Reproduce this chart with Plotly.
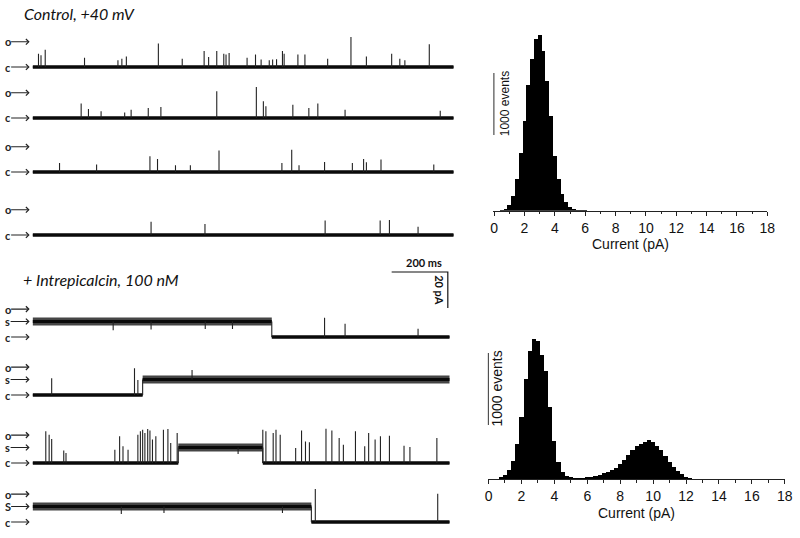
import plotly.graph_objects as go

W, H = 800, 538

# ---------------- DATA ----------------
# current levels (pA above the closed level)
C_LEVEL = 0.0
S_LEVEL = 8.6
CTRL_O_LEVEL = 14.0
INTR_O_LEVEL = 15.5
LEVELS = {"c": C_LEVEL, "s": S_LEVEL}

# Control, +40 mV : spike times (ms) and peak current (pA)
CTRL1_T = [21, 30, 45, 185, 304, 318, 334, 448, 533, 611, 627, 656, 681, 689, 700, 764, 794, 814,
           843, 855, 869, 890, 896, 945, 970, 1051, 1134, 1189, 1279, 1308, 1326, 1413]
CTRL1_P = [7.4, 6.5, 9.6, 5.2, 3.7, 4.6, 5.9, 13.0, 4.6, 8.9, 5.6, 8.9, 7.4, 7.0, 7.8, 5.2, 7.0, 4.1,
           3.7, 4.1, 4.3, 8.9, 7.4, 7.0, 7.0, 4.6, 16.7, 5.9, 7.4, 4.6, 3.7, 12.6]
CTRL2_T = [173, 199, 244, 328, 351, 412, 457, 656, 797, 822, 831, 927, 984, 1016, 1113, 1452]
CTRL2_P = [8.0, 5.0, 3.7, 3.0, 4.6, 5.6, 6.1, 14.8, 17.2, 9.3, 6.5, 7.4, 5.6, 8.0, 4.6, 4.0]
CTRL3_T = [96, 228, 418, 445, 509, 562, 664, 888, 923, 949, 1040, 1139, 1179, 1189, 1241, 1429]
CTRL3_P = [5.0, 4.1, 8.7, 7.2, 3.7, 3.7, 11.9, 5.0, 12.4, 3.7, 5.6, 5.0, 7.2, 5.4, 6.9, 4.1]
CTRL4_T = [422, 614, 1042, 1238, 1271, 1373]
CTRL4_P = [7.4, 6.1, 8.0, 8.0, 8.3, 4.6]
CTRL_SEG_T = [0, 1500]
CTRL_SEG_L = ["c"]

# + Intrepicalcin, 100 nM : level segments (ms) and spikes
INTR1_SEG_T = [0, 852, 1485]
INTR1_SEG_L = ["s", "c"]
INTR1_T = [287, 422, 615, 712, 1040, 1113, 1373]
INTR1_P = [3.8, 4.2, 4.5, 4.5, 10.7, 7.4, 4.6]

INTR2_SEG_T = [0, 392, 1485]
INTR2_SEG_L = ["c", "s"]
INTR2_T = [68, 363, 375, 568]
INTR2_P = [9.3, 14.8, 8.3, 13.9]

INTR3_SEG_T = [0, 519, 820, 1485]
INTR3_SEG_L = ["c", "s", "c"]
INTR3_T = [47, 59, 68, 111, 119, 293, 310, 322, 340, 375, 384, 392, 400, 410, 418, 427, 439,
           466, 482, 492, 515, 732, 820, 831, 857, 867, 882, 937, 958, 972, 986, 1045, 1066,
           1092, 1107, 1150, 1183, 1197, 1220, 1239, 1271, 1323, 1344, 1440]
INTR3_P = [17.6, 15.7, 13.3, 7.0, 5.6, 7.4, 14.8, 9.3, 7.4, 15.7, 17.6, 18.5, 16.7, 18.9, 18.1,
           13.0, 14.8, 18.5, 18.9, 11.1, 16.7, 5.0, 18.5, 17.6, 16.7, 18.5, 15.7, 8.3, 18.0, 12.0,
           11.5, 19.0, 18.0, 13.9, 10.2, 17.6, 9.3, 16.7, 13.0, 14.8, 15.2, 9.6, 8.9, 13.9]

INTR4_SEG_T = [0, 993, 1485]
INTR4_SEG_L = ["s", "c"]
INTR4_T = [316, 468, 890, 1007, 1443]
INTR4_P = [4.5, 5.0, 5.0, 18.3, 15.7]

# scale bars
SCALE_MS = 200
SCALE_PA = 20
SCALE_EVENTS = 1000

# amplitude histograms (bin centre pA, counts)
HIST_BIN_W = 0.25
CTRL_BINS = [0.5, 0.75, 1.0, 1.25, 1.5, 1.75, 2.0, 2.25, 2.5, 2.75, 3.0, 3.25, 3.5, 3.75, 4.0,
             4.25, 4.5, 4.75, 5.0, 5.25, 5.5, 5.75, 6.0]
CTRL_COUNTS = [8, 32, 97, 242, 516, 936, 1452, 2032, 2452, 2774, 2839, 2581, 2097, 1532, 887,
               516, 274, 145, 65, 32, 16, 8, 5]
INTR_BINS = [0.5, 0.75, 1.0, 1.25, 1.5, 1.75, 2.0, 2.25, 2.5, 2.75, 3.0, 3.25, 3.5, 3.75, 4.0,
             4.25, 4.5, 4.75, 5.0, 5.25, 5.5, 5.75, 6.0, 6.25, 6.5, 6.75, 7.0, 7.25, 7.5, 7.75,
             8.0, 8.25, 8.5, 8.75, 9.0, 9.25, 9.5, 9.75, 10.0, 10.25, 10.5, 10.75, 11.0, 11.25,
             11.5, 11.75, 12.0, 12.25, 12.5, 12.75]
INTR_COUNTS = [7, 28, 56, 125, 250, 487, 862, 1390, 1779, 1946, 1918, 1724, 1501, 1001, 528,
               236, 97, 42, 28, 21, 21, 24, 28, 35, 42, 63, 83, 104, 125, 160,
               209, 264, 334, 403, 459, 487, 514, 542, 514, 459, 403, 320, 236, 167,
               111, 70, 35, 17, 10, 4]
HIST_TICKS = [0, 2, 4, 6, 8, 10, 12, 14, 16, 18]
HIST_MINOR = [1, 3, 5, 7, 9, 11, 13, 15, 17]

# ---------------- LAYOUT HELPERS ----------------
LABEL_FONT = "Lato"
AXIS_FONT = "Liberation Sans"
PX_PER_PA = 1.8


def px_x(p):
    return p / W


def px_y(p):
    return 1 - p / H


def ydom(c_px):
    # y range [-5, 20] pA at PX_PER_PA
    return [px_y(c_px + 5 * PX_PER_PA), px_y(c_px - 20 * PX_PER_PA)]


fig = go.Figure()
layout = {}
annotations = []

PANELS = [
    (CTRL_SEG_T, CTRL_SEG_L, CTRL1_T, CTRL1_P, 67, [("o", CTRL_O_LEVEL), ("c", C_LEVEL)]),
    (CTRL_SEG_T, CTRL_SEG_L, CTRL2_T, CTRL2_P, 118, [("o", CTRL_O_LEVEL), ("c", C_LEVEL)]),
    (CTRL_SEG_T, CTRL_SEG_L, CTRL3_T, CTRL3_P, 172, [("o", CTRL_O_LEVEL), ("c", C_LEVEL)]),
    (CTRL_SEG_T, CTRL_SEG_L, CTRL4_T, CTRL4_P, 235, [("o", CTRL_O_LEVEL), ("c", C_LEVEL)]),
    (INTR1_SEG_T, INTR1_SEG_L, INTR1_T, INTR1_P, 337,
     [("o", INTR_O_LEVEL), ("s", S_LEVEL), ("c", C_LEVEL)]),
    (INTR2_SEG_T, INTR2_SEG_L, INTR2_T, INTR2_P, 395,
     [("o", INTR_O_LEVEL), ("s", S_LEVEL), ("c", C_LEVEL)]),
    (INTR3_SEG_T, INTR3_SEG_L, INTR3_T, INTR3_P, 463,
     [("o", INTR_O_LEVEL), ("s", S_LEVEL), ("c", C_LEVEL)]),
    (INTR4_SEG_T, INTR4_SEG_L, INTR4_T, INTR4_P, 522,
     [("o", INTR_O_LEVEL), ("S", S_LEVEL), ("c", C_LEVEL)]),
]

for i, (seg_t, seg_l, sp_t, sp_p, c_px, labels) in enumerate(PANELS, start=1):
    xa, ya = ("x", "y") if i == 1 else (f"x{i}", f"y{i}")
    xk, yk = ("xaxis", "yaxis") if i == 1 else (f"xaxis{i}", f"yaxis{i}")
    layout[xk] = dict(domain=[px_x(30), px_x(457)], range=[0, 1500], visible=False,
                      anchor=ya, fixedrange=True)
    layout[yk] = dict(domain=ydom(c_px), range=[-5, 20], visible=False, anchor=xa,
                      fixedrange=True)

    # level bands (noise envelope + core)
    for k, lv in enumerate(seg_l):
        y = LEVELS[lv]
        wide, core = (8.0, 2.8) if lv == "s" else (4.2, 2.0)
        fig.add_trace(go.Scatter(x=[seg_t[k], seg_t[k + 1]], y=[y, y], mode="lines",
                                 line=dict(color="#454545", width=wide), xaxis=xa, yaxis=ya,
                                 hoverinfo="skip", showlegend=False))
        fig.add_trace(go.Scatter(x=[seg_t[k], seg_t[k + 1]], y=[y, y], mode="lines",
                                 line=dict(color="#0a0a0a", width=core), xaxis=xa, yaxis=ya,
                                 hoverinfo="skip", showlegend=False))
    # transitions
    tx, ty = [], []
    for k in range(1, len(seg_l)):
        tx += [seg_t[k], seg_t[k], None]
        ty += [LEVELS[seg_l[k - 1]], LEVELS[seg_l[k]], None]
    # spikes
    for t, p in zip(sp_t, sp_p):
        base = None
        for k, lv in enumerate(seg_l):
            if seg_t[k] <= t < seg_t[k + 1]:
                base = LEVELS[lv]
        tx += [t, t, None]
        ty += [base, p, None]
    fig.add_trace(go.Scatter(x=tx, y=ty, mode="lines", line=dict(color="#222222", width=1.1),
                             xaxis=xa, yaxis=ya, hoverinfo="skip", showlegend=False))

    for txt, lvl in labels:
        annotations.append(dict(text=f"<b>{txt}</b>", x=px_x(27), y=lvl, xref="paper", yref=ya,
                                showarrow=True, arrowhead=4, arrowsize=1, arrowwidth=1.1,
                                arrowcolor="#222222", ax=-22, ay=0, borderpad=0,
                                font=dict(family=LABEL_FONT, size=11, color="#222222")))

# ---------------- scale bar (time / current) ----------------
layout["xaxis11"] = dict(domain=[px_x(30), px_x(457)], range=[0, 1500], visible=False,
                         anchor="y11", fixedrange=True)
layout["yaxis11"] = dict(domain=[px_y(315), px_y(255)], range=[0, 60 / PX_PER_PA],
                         visible=False, anchor="x11", fixedrange=True)
SB_X1 = 1479
SB_Y1 = 23.9
fig.add_trace(go.Scatter(x=[SB_X1 - SCALE_MS, SB_X1, SB_X1], y=[SB_Y1, SB_Y1, SB_Y1 - SCALE_PA],
                         mode="lines", line=dict(color="#111111", width=1.2),
                         xaxis="x11", yaxis="y11", hoverinfo="skip", showlegend=False))
annotations.append(dict(text=f"<b>{SCALE_MS} ms</b>", x=SB_X1 - SCALE_MS / 2, y=SB_Y1,
                        xref="x11", yref="y11", xshift=4, yshift=1, xanchor="center",
                        yanchor="bottom", showarrow=False,
                        font=dict(family=LABEL_FONT, size=11, color="#111111")))
annotations.append(dict(text=f"<b>{SCALE_PA} pA</b>", x=SB_X1, y=SB_Y1 - SCALE_PA / 2,
                        xref="x11", yref="y11", xshift=-9, textangle=90, xanchor="center",
                        yanchor="middle", showarrow=False,
                        font=dict(family=LABEL_FONT, size=11, color="#111111")))

# ---------------- histograms ----------------
HISTS = [
    # n, bins, counts, axis-left px, axis-right px, zero px, baseline px, events/px,
    # tick font, events font, events xshift, title px, y top, bar low
    (9, CTRL_BINS, CTRL_COUNTS, 497.2, 775.0, 498.0, 210.7, 16.13, 14, 12, 11, 244, 3000, 1220),
    (10, INTR_BINS, INTR_COUNTS, 491.5, 792.7, 492.3, 479.3, 13.9, 14, 14, 8, 513, 2300, 755),
]
for (n, bins, counts, x0px, x1px, zpx, base_px, ev_per_px, tfs, efs, eshift, title_px,
     top, bar_lo) in HISTS:
    x_lo = -(zpx - x0px) / ((x1px - zpx) / 18)
    layout[f"xaxis{n}"] = dict(
        domain=[px_x(x0px), px_x(x1px)], range=[x_lo, 18], anchor=f"y{n}",
        showline=True, linecolor="#222222", linewidth=1, ticks="outside", ticklen=4,
        tickwidth=1, tickcolor="#222222", tickvals=HIST_TICKS, showgrid=False, zeroline=False,
        tickfont=dict(family=AXIS_FONT, size=tfs, color="#111111"),
        minor=dict(tickvals=HIST_MINOR, ticks="outside", ticklen=2.5, tickcolor="#222222"),
        fixedrange=True)
    layout[f"yaxis{n}"] = dict(domain=[px_y(base_px), px_y(base_px - top / ev_per_px)],
                               range=[0, top], visible=False, anchor=f"x{n}", fixedrange=True)
    fig.add_trace(go.Bar(x=bins, y=counts, width=HIST_BIN_W,
                         marker=dict(color="black", line=dict(width=0)),
                         xaxis=f"x{n}", yaxis=f"y{n}", hoverinfo="skip", showlegend=False))
    # 1000 events scale bar
    fig.add_trace(go.Scatter(x=[x_lo / 2, x_lo / 2], y=[bar_lo, bar_lo + SCALE_EVENTS],
                             mode="lines", line=dict(color="#111111", width=1.2),
                             xaxis=f"x{n}", yaxis=f"y{n}", hoverinfo="skip", showlegend=False))
    annotations.append(dict(text=f"{SCALE_EVENTS} events", x=0, y=bar_lo + SCALE_EVENTS / 2,
                            xref=f"x{n}", yref=f"y{n}", xshift=eshift, textangle=-90,
                            xanchor="center", yanchor="middle", showarrow=False,
                            font=dict(family=AXIS_FONT, size=efs, color="#111111")))
    annotations.append(dict(text="Current (pA)", x=(px_x(x0px) + px_x(x1px)) / 2,
                            y=px_y(title_px), xref="paper", yref="paper", xanchor="center",
                            yanchor="middle", showarrow=False,
                            font=dict(family=AXIS_FONT, size=tfs, color="#111111")))

# ---------------- titles ----------------
annotations.append(dict(text="<i>Control, +40 mV</i>", x=px_x(19), y=px_y(14), xref="paper",
                        yref="paper", xanchor="left", yanchor="middle", showarrow=False,
                        font=dict(family=LABEL_FONT, size=16, color="#111111")))
annotations.append(dict(text="<i>+ Intrepicalcin, 100 nM</i>", x=px_x(18), y=px_y(279),
                        xref="paper", yref="paper", xanchor="left", yanchor="middle",
                        showarrow=False,
                        font=dict(family=LABEL_FONT, size=16, color="#111111")))

fig.update_layout(
    width=W, height=H, margin=dict(l=0, r=0, t=0, b=0),
    paper_bgcolor="white", plot_bgcolor="white", bargap=0, showlegend=False,
    annotations=annotations, **layout)

fig.write_html("out.html", config={"displayModeBar": False, "staticPlot": True},
               post_script="document.body.style.margin='0';document.body.style.overflow='hidden';")
